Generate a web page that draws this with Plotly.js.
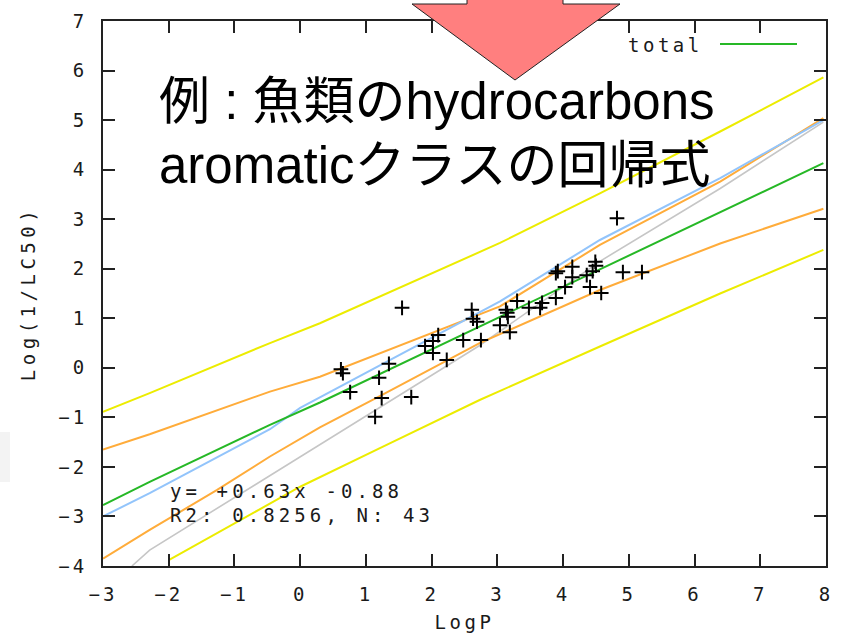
<!DOCTYPE html>
<html>
<head>
<meta charset="utf-8">
<script src="https://cdn.plot.ly/plotly-3.0.1.min.js"></script>
<style>html,body{margin:0;padding:0;background:#ffffff}</style>
</head>
<body>
<div id="chart" style="width:841px;height:638px"></div>
<script>
// ---- data ----
const logP = [0.62,0.65,0.76,1.14,1.20,1.24,1.35,1.55,1.69,1.90,2.02,2.10,2.02,2.23,2.48,2.61,2.63,2.69,2.75,3.04,3.13,3.16,3.19,3.30,3.48,3.65,3.68,3.89,4.03,3.89,3.92,4.14,4.14,4.36,4.45,4.49,4.41,4.58,4.91,5.20,4.82,3.15,4.50];
const logInvLC50 = [-0.03,-0.11,-0.49,-0.99,-0.20,-0.61,0.08,1.21,-0.59,0.44,0.54,0.66,0.30,0.16,0.56,1.17,0.99,0.93,0.56,0.86,1.17,1.03,0.72,1.35,1.21,1.21,1.31,1.41,1.63,1.91,1.95,2.04,1.83,1.87,1.95,2.14,1.63,1.51,1.93,1.93,3.02,1.11,2.06];

const totalX = [-3, -2.29, -0.46, 0.30, 3.04, 4.56, 6.39, 7.96];
const totalY = [-2.77, -2.30, -1.15, -0.70, 1.03, 1.99, 3.15, 4.13];

const blueX = [-3, -2.29, -0.46, 0.0, 3.04, 4.56, 6.39, 7.96];
const blueY = [-3.00, -2.53, -1.24, -0.81, 1.34, 2.58, 3.83, 5.00];

const grayX = [-2.56, -2.29, 2.73, 4.56, 6.39, 7.96];
const grayY = [-4.00, -3.68, 0.45, 2.15, 3.62, 4.96];

const confUpX = [-3, -2.29, -0.46, 0.30, 3.04, 4.56, 6.39, 7.96];
const confUpY = [-1.65, -1.34, -0.48, -0.18, 1.24, 2.48, 3.76, 5.04];

const confLoX = [-3, -2.29, -1.27, -0.46, 0.30, 1.24, 2.73, 4.56, 6.39, 7.96];
const confLoY = [-3.85, -3.27, -2.47, -1.79, -1.20, -0.55, 0.50, 1.57, 2.51, 3.21];

const predUpX = [-3, -2.29, -0.46, 0.30, 3.04, 4.56, 6.39, 7.96];
const predUpY = [-0.89, -0.51, 0.50, 0.90, 2.52, 3.52, 4.77, 5.86];

const predLoX = [-2.0, 0.0, 1.26, 2.73, 4.56, 6.39, 7.96];
const predLoY = [-3.88, -2.40, -1.59, -0.65, 0.43, 1.50, 2.38];

const xTickVals = [-3,-2,-1,0,1,2,3,4,5,6,7,8];
const xTickText = ['\u22123','\u22122','\u22121','0','1','2','3','4','5','6','7','8'];
const yTickVals = [-4,-3,-2,-1,0,1,2,3,4,5,6,7];
const yTickText = ['\u22124','\u22123','\u22122','\u22121','0','1','2','3','4','5','6','7'];

const xTitle = 'LogP';
const yTitle = 'Log(1/LC50)';
const legendName = 'total';
const eqLine1 = 'y= +0.63x -0.88';
const eqLine2 = 'R2: 0.8256, N: 43';
const noteLine1 = '例 : 魚類のhydrocarbons';
const noteLine2 = 'aromaticクラスの回帰式';

// ---- styling ----
const W = 841, H = 638;
const M = {l:103, r:15, t:21, b:72};
const pw = W - M.l - M.r, ph = H - M.t - M.b;
const px = x => (x - M.l) / pw;
const py = y => (H - M.b - y) / ph;
const mono = 'DejaVu Sans Mono, monospace';
const sp = (t, s) => '<span style="letter-spacing:' + s + 'px">' + t + '</span>';

const YEL = '#ecec00', ORA = '#ffac3a', GRN = '#26b826', BLU = '#92c4fb', GRY = '#c6c6c6';

function line(x, y, color, w) {
  return {x: x, y: y, type: 'scatter', mode: 'lines', line: {color: color, width: w}, hoverinfo: 'skip', showlegend: false};
}

const traces = [
  line(predUpX, predUpY, YEL, 2),
  line(predLoX, predLoY, YEL, 2),
  line(grayX, grayY, GRY, 1.6),
  line(confUpX, confUpY, ORA, 2),
  line(confLoX, confLoY, ORA, 2),
  line(blueX, blueY, BLU, 2),
  Object.assign(line(totalX, totalY, GRN, 2), {name: legendName}),
  {x: logP, y: logInvLC50, type: 'scatter', mode: 'markers', showlegend: false,
   marker: {symbol: 'cross-thin', size: 10.5, color: '#000', line: {color: '#000', width: 2}}}
];

const txtFont = {family: mono, size: 19, color: '#1a1a1a'};

const layout = {
  width: W, height: H,
  margin: M,
  paper_bgcolor: '#ffffff', plot_bgcolor: '#ffffff',
  showlegend: false,
  xaxis: {
    range: [-3, 8], tickmode: 'array', tickvals: xTickVals,
    ticktext: xTickText.map(t => sp(t, 3)),
    ticks: 'inside', ticklen: 12, tickwidth: 2, tickcolor: '#222',
    showline: true, linecolor: '#222', linewidth: 2, mirror: 'ticks',
    showgrid: false, zeroline: false, tickfont: txtFont, ticklabelstandoff: 10,
    title: {text: sp(xTitle, 3.5), font: txtFont, standoff: 12}
  },
  yaxis: {
    range: [-4, 7], tickmode: 'array', tickvals: yTickVals,
    ticktext: yTickText.map(t => sp(t, 3)),
    ticks: 'inside', ticklen: 12, tickwidth: 2, tickcolor: '#222',
    showline: true, linecolor: '#222', linewidth: 2, mirror: 'ticks',
    showgrid: false, zeroline: false, tickfont: txtFont, ticklabelstandoff: 10,
    title: {text: sp(yTitle, 4.5), font: txtFont, standoff: 18}
  },
  shapes: [
    // faint background patch at the left edge
    {type: 'rect', xref: 'paper', yref: 'paper', x0: px(0), x1: px(10), y0: py(482), y1: py(432),
     fillcolor: '#f3f3f3', line: {width: 0}, layer: 'below'},
    // legend sample line
    {type: 'line', xref: 'paper', yref: 'paper', x0: px(720), x1: px(797), y0: py(44), y1: py(44),
     line: {color: GRN, width: 2}},
    // red block arrow
    {type: 'path', xref: 'paper', yref: 'paper', layer: 'above',
     path: 'M' + px(467) + ',' + py(-10) + ' L' + px(467) + ',' + py(4) + ' L' + px(412) + ',' + py(4) +
           ' L' + px(515) + ',' + py(80) + ' L' + px(620) + ',' + py(4) + ' L' + px(563) + ',' + py(4) +
           ' L' + px(563) + ',' + py(-10) + ' Z',
     fillcolor: '#ff7f7f', line: {color: '#222', width: 1}}
  ],
  annotations: [
    {xref: 'paper', yref: 'paper', x: px(168), y: py(491), xanchor: 'left', yanchor: 'middle',
     text: sp(eqLine1, 4.1), showarrow: false, font: txtFont},
    {xref: 'paper', yref: 'paper', x: px(168), y: py(515), xanchor: 'left', yanchor: 'middle',
     text: sp(eqLine2, 4.1), showarrow: false, font: txtFont},
    {xref: 'paper', yref: 'paper', x: px(705), y: py(45), xanchor: 'right', yanchor: 'middle',
     text: sp(legendName, 3.5), showarrow: false, font: txtFont},
    {xref: 'paper', yref: 'paper', x: px(157), y: py(101), xanchor: 'left', yanchor: 'middle',
     text: noteLine1, showarrow: false,
     font: {family: "'Liberation Sans', 'Noto Sans CJK JP', sans-serif", size: 51, color: '#000'}},
    {xref: 'paper', yref: 'paper', x: px(157), y: py(166), xanchor: 'left', yanchor: 'middle',
     text: noteLine2, showarrow: false,
     font: {family: "'Liberation Sans', 'Noto Sans CJK JP', sans-serif", size: 51, color: '#000'}}
  ]
};

Plotly.newPlot('chart', traces, layout, {staticPlot: true, displayModeBar: false});
</script>
</body>
</html>
